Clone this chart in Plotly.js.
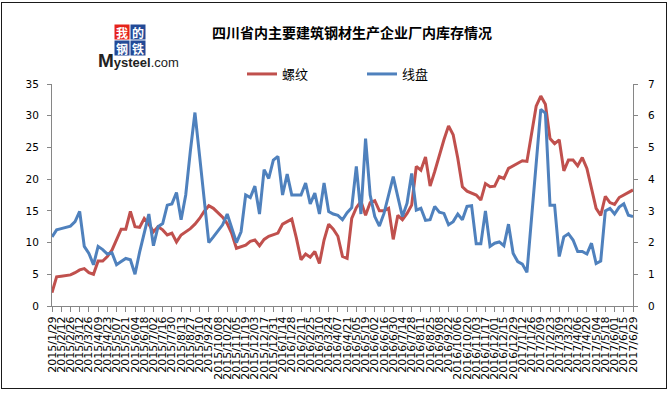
<!DOCTYPE html>
<html>
<head>
<meta charset="utf-8">
<script src="https://cdn.plot.ly/plotly-3.0.1.min.js"></script>
<style>
html,body{margin:0;padding:0;background:#fff;}
#chart{width:671px;height:393px;}
#frame{position:absolute;left:1px;top:2px;width:666px;height:387px;border:1.5px solid #1a1a1a;box-sizing:border-box;pointer-events:none;}
</style>
</head>
<body>
<div id="chart"></div>
<div id="frame"></div>
<script>
// Weekly categories
const weeks = [
"2015/1/29","2015/2/05","2015/2/12","2015/2/19","2015/2/26","2015/3/05","2015/3/12","2015/3/19","2015/3/26","2015/4/02",
"2015/4/09","2015/4/16","2015/4/23","2015/4/30","2015/5/07","2015/5/14","2015/5/21","2015/5/28","2015/6/04","2015/6/11",
"2015/6/18","2015/6/25","2015/7/02","2015/7/09","2015/7/16","2015/7/23","2015/7/30","2015/8/06","2015/8/13","2015/8/20",
"2015/8/27","2015/9/03","2015/9/10","2015/9/17","2015/9/24","2015/10/01","2015/10/08","2015/10/15","2015/10/22","2015/10/29",
"2015/11/05","2015/11/12","2015/11/19","2015/11/26","2015/12/03","2015/12/10","2015/12/17","2015/12/24","2015/12/31",
"2016/1/07","2016/1/14","2016/1/21","2016/1/28","2016/2/04","2016/2/11","2016/2/18","2016/2/25","2016/3/03","2016/3/10",
"2016/3/17","2016/3/24","2016/3/31","2016/4/07","2016/4/14","2016/4/21","2016/4/28","2016/5/05","2016/5/12","2016/5/19",
"2016/5/26","2016/6/02","2016/6/09","2016/6/16","2016/6/23","2016/6/30","2016/7/07","2016/7/14","2016/7/21","2016/7/28",
"2016/8/04","2016/8/11","2016/8/18","2016/8/25","2016/9/01","2016/9/08","2016/9/15","2016/9/22","2016/9/29","2016/10/06",
"2016/10/13","2016/10/20","2016/10/27","2016/11/03","2016/11/10","2016/11/17","2016/11/24","2016/12/01","2016/12/08","2016/12/15",
"2016/12/22","2016/12/29",
"2017/1/05","2017/1/12","2017/1/19","2017/1/26","2017/2/02","2017/2/09","2017/2/16","2017/2/23","2017/3/02","2017/3/09",
"2017/3/16","2017/3/23","2017/3/30","2017/4/06","2017/4/13","2017/4/20","2017/4/27","2017/5/04","2017/5/11","2017/5/18",
"2017/5/25","2017/6/01","2017/6/08","2017/6/15","2017/6/22","2017/6/29"
];

// Labelled ticks (every other week)
const tickLabels = [
"2015/1/29","2015/2/12","2015/2/26","2015/3/12","2015/3/26","2015/4/09","2015/4/23","2015/5/07","2015/5/21","2015/6/04",
"2015/6/18","2015/7/02","2015/7/16","2015/7/30","2015/8/13","2015/8/27","2015/9/10","2015/9/24","2015/10/08","2015/10/22",
"2015/11/05","2015/11/19","2015/12/03","2015/12/17","2015/12/31","2016/1/14","2016/1/28","2016/2/11","2016/2/25","2016/3/10",
"2016/3/24","2016/4/07","2016/4/21","2016/5/05","2016/5/19","2016/6/02","2016/6/16","2016/6/30","2016/7/14","2016/7/28",
"2016/8/11","2016/8/25","2016/9/08","2016/9/22","2016/10/06","2016/10/20","2016/11/03","2016/11/17","2016/12/01","2016/12/15",
"2016/12/29","2017/1/12","2017/1/26","2017/2/09","2017/2/23","2017/3/09","2017/3/23","2017/4/06","2017/4/20","2017/5/04",
"2017/5/18","2017/6/01","2017/6/15","2017/6/29"
];

// 螺纹 (left axis)
const rebar = [
2.1,4.6,4.7,4.8,4.9,5.25,5.7,5.9,5.25,5.0,
7.1,7.1,7.8,8.8,10.5,12.1,12.1,14.9,12.5,12.4,
13.8,12.9,11.7,12.5,12.0,11.2,11.5,10.1,11.2,11.7,
12.2,12.9,13.8,14.9,15.8,15.4,14.7,14.0,13.0,11.4,
9.1,9.4,9.6,10.2,10.4,9.5,10.5,11.0,11.2,11.5,
12.9,13.3,13.7,10.7,7.3,8.2,7.7,8.6,6.7,10.4,
12.9,12.1,11.0,7.8,7.5,13.8,15.5,16.5,14.3,16.3,
16.6,15.0,15.0,15.4,10.5,14.3,13.6,14.6,15.9,22.0,
21.4,23.5,18.9,21.2,23.8,26.2,28.4,27.0,23.3,18.8,
18.1,17.8,17.5,16.7,19.3,18.8,18.9,20.4,20.1,21.7,
22.1,22.4,22.9,22.8,27.2,31.5,33.1,31.8,26.4,25.6,
26.2,21.3,23.0,23.0,22.1,23.4,21.7,18.6,15.4,14.3,
17.3,16.3,16.0,17.1,17.5,18.0,18.3
];

// 线盘 (right axis)
const wirerod = [
2.18,2.40,2.44,2.48,2.52,2.66,2.98,1.88,1.66,1.30,
1.88,1.78,1.64,1.68,1.30,1.40,1.50,1.46,1.00,1.70,
2.30,2.90,1.90,2.50,2.60,3.18,3.22,3.58,2.72,3.50,
4.88,6.10,4.74,3.38,2.00,2.18,2.38,2.56,2.90,2.44,
2.00,2.34,3.50,3.42,3.78,2.90,4.30,4.02,4.60,4.72,
3.50,4.16,3.50,3.50,3.50,3.88,3.22,3.56,2.90,3.88,
2.98,2.90,2.86,2.72,2.94,3.10,4.40,2.90,5.28,3.50,
2.82,2.52,2.92,3.50,4.08,3.44,2.82,3.24,4.18,3.02,
3.08,2.70,2.72,3.14,2.96,2.92,2.56,2.66,2.90,2.72,
3.14,3.16,1.96,1.96,3.00,1.88,1.98,2.02,1.90,2.58,
1.66,1.40,1.32,1.06,2.80,4.70,6.20,6.08,3.18,3.18,
1.56,2.18,2.28,2.08,1.72,1.72,1.64,1.98,1.34,1.42,
3.00,3.08,2.90,3.12,3.22,2.86,2.82
];

const seriesNames = ["螺纹","线盘"];
const titleText = "四川省内主要建筑钢材生产企业厂内库存情况";

// layout geometry helpers (pixel -> paper)
const L = 52, R = 38, T = 84, B = 87, W = 671, H = 393;
const pw = W - L - R, ph = H - T - B;
const px = x => (x - L) / pw;
const py = y => (H - B - y) / ph;

const axisColor = '#868686';
const tickFont = {family: 'DejaVu Sans, sans-serif', size: 10.5, color: '#000'};

const traces = [
  {x: weeks, y: rebar, name: seriesNames[0], type: 'scatter', mode: 'lines',
   line: {color: '#C0504D', width: 3}, yaxis: 'y'},
  {x: weeks, y: wirerod, name: seriesNames[1], type: 'scatter', mode: 'lines',
   line: {color: '#4F81BD', width: 3}, yaxis: 'y2'}
];

function logoBox(ch, x, y, bg) {
  return {text: '<b>' + ch + '</b>', x: px(x), y: py(y), xref: 'paper', yref: 'paper',
    showarrow: false, xanchor: 'center', yanchor: 'middle', width: 14, height: 14,
    bgcolor: bg, borderpad: 0,
    font: {family: 'Noto Sans CJK SC', size: 12, color: '#fff'}};
}

const layout = {
  width: W, height: H,
  margin: {l: L, r: R, t: T, b: B, pad: 0},
  paper_bgcolor: '#fff', plot_bgcolor: '#fff',
  showlegend: true,
  title: {text: '<b>' + titleText + '</b>', x: 352 / W, xref: 'container', xanchor: 'center',
          y: 1 - 33 / H, yref: 'container', yanchor: 'middle',
          font: {family: 'Noto Sans CJK SC', size: 14, color: '#000'}},
  legend: {orientation: 'h', x: px(242), y: py(74), xanchor: 'left', yanchor: 'middle',
           xref: 'paper', yref: 'paper', entrywidth: 75, entrywidthmode: 'pixels',
           bgcolor: 'rgba(0,0,0,0)', font: {family: 'Noto Sans CJK SC', size: 13, color: '#000'},
           itemwidth: 30},
  xaxis: {type: 'category', categoryorder: 'array', categoryarray: weeks,
          range: [0, weeks.length - 1], tickmode: 'array', tickvals: tickLabels, ticktext: tickLabels,
          tickangle: -90, ticks: 'outside', ticklen: 5, tickcolor: axisColor, tickwidth: 1,
          showline: true, linecolor: axisColor, linewidth: 1, showgrid: false, zeroline: false,
          tickfont: {family: 'DejaVu Sans, sans-serif', size: 11, color: '#000'}, fixedrange: true},
  yaxis: {range: [0, 35], tick0: 0, dtick: 5, ticks: 'outside', ticklen: 4, tickcolor: axisColor,
          showline: true, linecolor: axisColor, linewidth: 1, showgrid: false, zeroline: false,
          tickfont: tickFont, ticklabelstandoff: 6},
  yaxis2: {range: [0, 7], tick0: 0, dtick: 1, overlaying: 'y', side: 'right', ticks: 'outside', ticklen: 4,
           tickcolor: axisColor, showline: true, linecolor: axisColor, linewidth: 1, showgrid: false,
           zeroline: false, tickfont: tickFont, ticklabelstandoff: 8},
  annotations: [
    logoBox('我', 122, 32, '#e5231b'),
    logoBox('的', 137.5, 32, '#234a97'),
    logoBox('钢', 122, 47.5, '#234a97'),
    logoBox('铁', 137.5, 47.5, '#234a97'),
    {text: '<b><span style="font-size:19px">M</span>ysteel</b>.com', x: px(138), y: py(60),
     xref: 'paper', yref: 'paper', showarrow: false, xanchor: 'center', yanchor: 'middle',
     font: {family: 'Liberation Sans, Arial, sans-serif', size: 13, color: '#222'}}
  ]
};

Plotly.newPlot('chart', traces, layout, {displayModeBar: false, staticPlot: true});
</script>
</body>
</html>
